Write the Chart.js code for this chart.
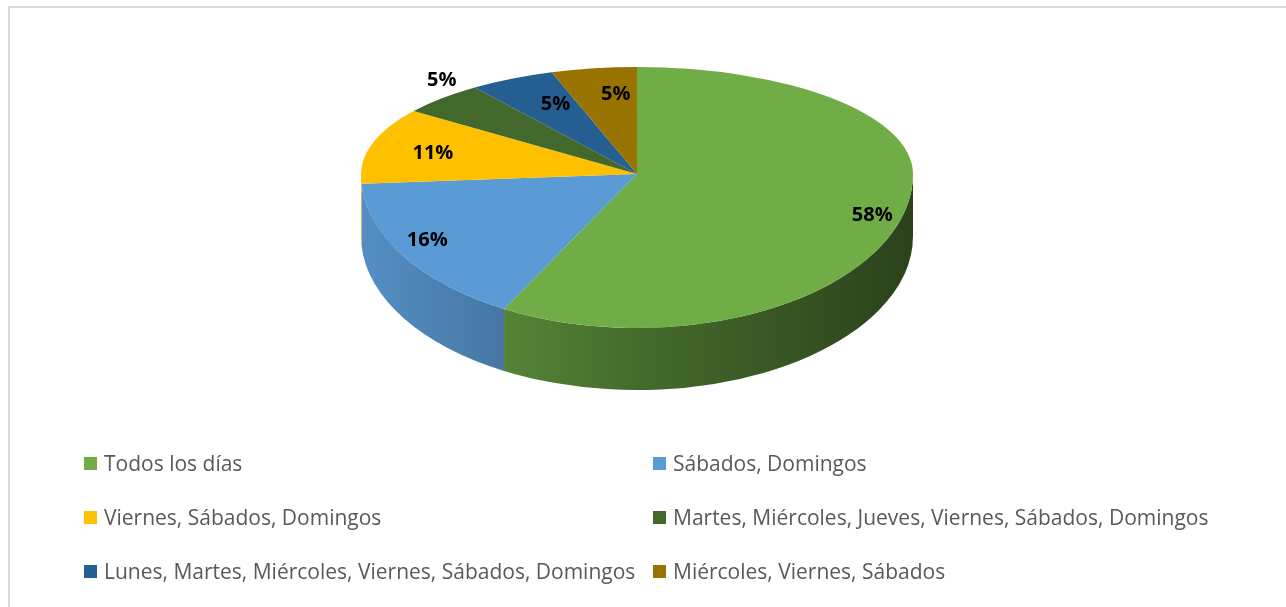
<!DOCTYPE html>
<html>
<head>
<meta charset="utf-8">
<script src="https://cdn.jsdelivr.net/npm/chart.js@4"></script>
<style>
  html, body { margin: 0; padding: 0; background: #fff; overflow: hidden; }
  #wrap { position: relative; width: 1286px; height: 607px; overflow: hidden; }
  #frame { position: absolute; left: 8px; top: 6px; width: 1300px; height: 620px;
           border: 2px solid #d9d9d9; box-sizing: border-box; }
  #pie { position: absolute; left: 0; top: 0; }
  .item { position: absolute; font: 21px 'Open Sans', sans-serif; color: #595959;
          line-height: 28px; white-space: nowrap; }
  .item i { position: absolute; left: -20px; top: 8px; width: 13px; height: 13px; }
</style>
</head>
<body>
<div id="wrap">
  <div id="frame"></div>
  <canvas id="pie" width="1286" height="607"></canvas>
  <div id="legend"></div>
</div>
<script>
// pie data
const labels = [
  'Todos los días',
  'Sábados, Domingos',
  'Viernes, Sábados, Domingos',
  'Martes, Miércoles, Jueves, Viernes, Sábados, Domingos',
  'Lunes, Martes, Miércoles, Viernes, Sábados, Domingos',
  'Miércoles, Viernes, Sábados'
];
const values = [58, 16, 11, 5, 5, 5];
const colors = ['#70AD47', '#5B9BD5', '#FFC000', '#43682B', '#255E91', '#997300'];

// where the tilted disc sits on the page
const PIE = { cx: 637, cy: 174, rx: 276, ryTop: 107, ryBottom: 154, depth: 62 };
// label spot per slice: [radius fraction, vertical nudge]
const LABEL_SPOT = [[0.88, 8], [0.9, -8], [0.77, 2], [1.0, -18], [0.65, -8], [0.49, -28]];

function shade(hex, k) {
  const n = parseInt(hex.slice(1), 16);
  const r = Math.round(((n >> 16) & 255) * k);
  const g = Math.round(((n >> 8) & 255) * k);
  const b = Math.round((n & 255) * k);
  return `rgb(${r},${g},${b})`;
}

// ── fake 3D: side wall + squashed top face, labels on top ─────
const pie3d = {
  id: 'pie3d',
  beforeDatasetsDraw(chart) {
    const c = chart.ctx;
    const arcs = chart.getDatasetMeta(0).data;
    const { cx, cy, rx, ryTop, ryBottom, depth } = PIE;
    const total = values.reduce((a, v) => a + v, 0);

    // side walls (only the front half is visible)
    arcs.forEach((arc, i) => {
      const s = Math.max(arc.startAngle, 0);
      const e = Math.min(arc.endAngle, Math.PI);
      if (e <= s) return;
      const g = c.createLinearGradient(cx - rx, 0, cx + rx, 0);
      g.addColorStop(0, shade(colors[i], 0.92));
      g.addColorStop(0.5, shade(colors[i], 0.62));
      g.addColorStop(1, shade(colors[i], 0.38));
      c.beginPath();
      c.ellipse(cx, cy, rx, ryBottom, 0, s, e);
      c.ellipse(cx, cy + depth, rx, ryBottom, 0, e, s, true);
      c.closePath();
      c.fillStyle = g;
      c.fill();
    });

    // top face: far half flatter than near half
    [[ryTop, 0, cy + 0.5], [ryBottom, cy - 0.5, chart.height]].forEach(([ry, y0, y1]) => {
      c.save();
      c.beginPath();
      c.rect(0, y0, chart.width, y1 - y0);
      c.clip();
      const a0 = arcs[0];
      c.translate(cx, cy);
      c.scale(rx / a0.outerRadius, ry / a0.outerRadius);
      c.translate(-a0.x, -a0.y);
      arcs.forEach(a => a.draw(c));
      c.restore();
    });

    // data labels
    c.save();
    c.fillStyle = '#000';
    c.font = "bold 20px 'Open Sans', sans-serif";
    c.textAlign = 'center';
    c.textBaseline = 'middle';
    arcs.forEach((arc, i) => {
      const m = (arc.startAngle + arc.endAngle) / 2;
      const [f, dy] = LABEL_SPOT[i];
      const sn = Math.sin(m);
      const x = cx + rx * Math.cos(m) * f;
      const y = cy + (sn < 0 ? ryTop : ryBottom) * sn * f + dy;
      c.fillText(Math.round(values[i] / total * 100) + '%', x, y);
    });
    c.restore();
    return false;
  }
};

new Chart(document.getElementById('pie'), {
  type: 'pie',
  data: {
    labels,
    datasets: [{ data: values, backgroundColor: colors, borderWidth: 0 }]
  },
  plugins: [pie3d],
  options: {
    responsive: false,
    animation: false,
    events: [],
    plugins: { legend: { display: false }, tooltip: { enabled: false } }
  }
});

// legend, two columns
const legend = document.getElementById('legend');
labels.forEach((txt, i) => {
  const el = document.createElement('div');
  el.className = 'item';
  el.style.left = (i % 2 ? 673 : 104) + 'px';
  el.style.top = (449 + Math.floor(i / 2) * 54) + 'px';
  el.innerHTML = `<i style="background:${colors[i]}"></i>${txt}`;
  legend.appendChild(el);
});
</script>
</body>
</html>
